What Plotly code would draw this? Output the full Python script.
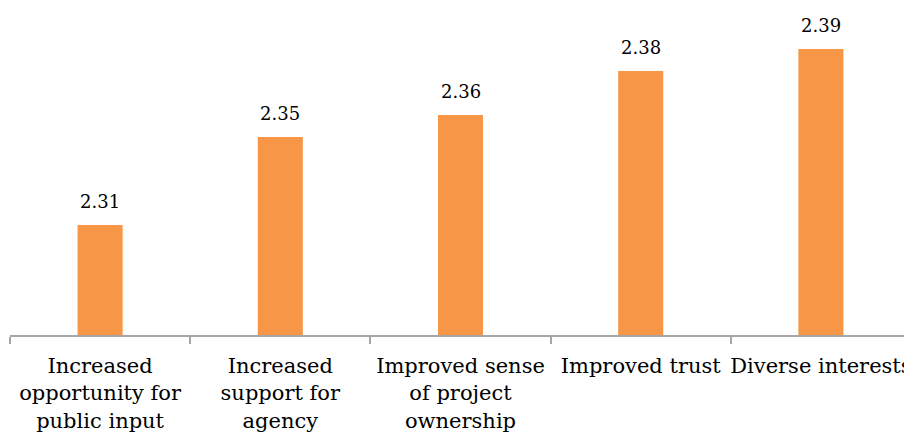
import plotly.graph_objects as go

categories = [
    "Increased<br>opportunity for<br>public input",
    "Increased<br>support for<br>agency",
    "Improved sense<br>of project<br>ownership",
    "Improved trust",
    "Diverse interests",
]
values = [2.31, 2.35, 2.36, 2.38, 2.39]

BAR_COLOR = "#F79646"
AXIS_COLOR = "#A6A6A6"
FONT = "DejaVu Serif"

fig = go.Figure(
    go.Bar(
        x=categories,
        y=values,
        marker=dict(color=BAR_COLOR, line=dict(width=0)),
        hoverinfo="skip",
    )
)

# value labels above each bar
for cat, val in zip(categories, values):
    fig.add_annotation(
        x=cat,
        y=val,
        text=f"{val:.2f}",
        showarrow=False,
        yanchor="bottom",
        yshift=11,
        font=dict(family=FONT, size=18, color="#000000"),
    )

fig.update_layout(
    width=904,
    height=440,
    margin=dict(l=10, r=0, t=0, b=105, autoexpand=False),
    paper_bgcolor="white",
    plot_bgcolor="white",
    bargap=0.75,
    showlegend=False,
    font=dict(family=FONT, size=21, color="#000000"),
)

fig.update_xaxes(
    type="category",
    range=[-0.5, -0.5 + 894 / 180.2],
    automargin=False,
    tickangle=0,
    showline=True,
    linecolor=AXIS_COLOR,
    linewidth=1.5,
    ticks="outside",
    tickson="boundaries",
    ticklen=7,
    tickcolor=AXIS_COLOR,
    tickwidth=1.5,
    showgrid=False,
    ticklabelstandoff=11,
    tickfont=dict(family=FONT, size=21, color="#000000"),
)

fig.update_yaxes(
    range=[2.26, 2.26 + 335 / 2200],
    visible=False,
    showgrid=False,
    zeroline=False,
)

fig.write_html("out.html")
